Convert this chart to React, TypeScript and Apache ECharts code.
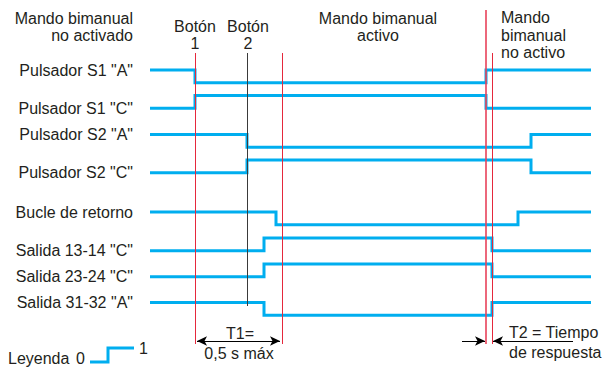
import React, { useEffect, useRef } from "react";
import * as echarts from "echarts";

// ---- data (time in abstract units, state 1 = high, 0 = low) ----
const signalNames = [
  'Pulsador S1 "A"',
  'Pulsador S1 "C"',
  'Pulsador S2 "A"',
  'Pulsador S2 "C"',
  "Bucle de retorno",
  'Salida 13-14 "C"',
  'Salida 23-24 "C"',
  'Salida 31-32 "A"',
];
const pulsadorS1A = [[0, 1], [45, 0], [336, 1], [441, 1]];
const pulsadorS1C = [[0, 0], [45, 1], [336, 0], [441, 0]];
const pulsadorS2A = [[0, 1], [97, 0], [381, 1], [441, 1]];
const pulsadorS2C = [[0, 0], [97, 1], [381, 0], [441, 0]];
const bucleRetorno = [[0, 1], [126, 0], [368, 1], [441, 1]];
const salida1314 = [[0, 0], [114, 1], [342, 0], [441, 0]];
const salida2324 = [[0, 0], [114, 1], [342, 0], [441, 0]];
const salida3132 = [[0, 1], [114, 0], [342, 1], [441, 1]];
const signals = [pulsadorS1A, pulsadorS1C, pulsadorS2A, pulsadorS2C, bucleRetorno, salida1314, salida2324, salida3132];

const tBoton1 = 45;
const tBoton2 = 97;
const tT1End = 132;
const tRelease = 336;
const tT2End = 342;
const tEnd = 441;

// ---- layout ----
const rowTops = [70, 95.5, 134.5, 160, 212, 238, 264, 302.5];
const rowHeight = 12.7;
const W = 602;
const H = 367;
const plotLeft = 150;
const plotRight = 11;

const BLUE = "#00AEEF";
const RED = "#E5283C";
const TXT = "#231F20";
const FONT = "Liberation Sans, Arial, Helvetica, sans-serif";
const FS = 16;

export default function App() {
  const ref = useRef<HTMLDivElement>(null);
  useEffect(() => {
    document.body.style.margin = "0";
    const chart = echarts.init(ref.current!, null, { renderer: "svg" });

    const grids: any[] = [];
    const xAxes: any[] = [];
    const yAxes: any[] = [];
    const series: any[] = [];

    signals.forEach((sig, i) => {
      grids.push({ left: plotLeft, right: plotRight, top: rowTops[i], height: rowHeight });
      xAxes.push({ type: "value", gridIndex: i, min: 0, max: tEnd, show: false });
      yAxes.push({ type: "value", gridIndex: i, min: 0, max: 1, show: false });
      series.push({
        type: "line",
        name: signalNames[i],
        xAxisIndex: i,
        yAxisIndex: i,
        step: "end",
        clip: false,
        showSymbol: false,
        lineStyle: { color: BLUE, width: 3, join: "miter", cap: "butt" },
        z: 3,
        data: sig,
      });
    });

    // overlay grid for markers
    const oi = signals.length;
    grids.push({ left: plotLeft, right: plotRight, top: 0, bottom: 0 });
    xAxes.push({ type: "value", gridIndex: oi, min: 0, max: tEnd, show: false });
    yAxes.push({ type: "value", gridIndex: oi, min: 0, max: H, inverse: true, show: false });

    const vline = (t: number, y1: number, y2: number, color: string, width: number) => [
      { coord: [t, y1], lineStyle: { color, width, type: "solid" } },
      { coord: [t, y2] },
    ];
    const arrowY = 341;
    series.push({
      type: "line",
      xAxisIndex: oi,
      yAxisIndex: oi,
      data: [[0, -50]],
      showSymbol: false,
      lineStyle: { opacity: 0 },
      z: 2,
      markLine: {
        silent: true,
        symbol: "none",
        label: { show: false },
        data: [
          vline(tBoton1, 53, 344, RED, 1),
          vline(tBoton2, 53, 306, "#3a3a3a", 1),
          vline(tT1End, 53, 344, RED, 1),
          vline(tRelease, 10, 344, "#E8425A", 1.6),
          vline(tT2End, 53, 344, RED, 1),
        ],
      },
    });
    series.push({
      type: "line",
      xAxisIndex: oi,
      yAxisIndex: oi,
      data: [[0, -50]],
      showSymbol: false,
      lineStyle: { opacity: 0 },
      z: 4,
      markLine: {
        silent: true,
        symbolSize: [7, 10],
        label: { show: false },
        lineStyle: { color: "#000", width: 1, type: "solid" },
        data: [
          [
            { coord: [tBoton1 + 2, arrowY], symbol: "arrow" },
            { coord: [tT1End - 2, arrowY], symbol: "arrow" },
          ],
          [
            { coord: [tRelease - 24, arrowY], symbol: "none" },
            { coord: [tRelease - 1, arrowY], symbol: "arrow" },
          ],
          [
            { coord: [tT2End + 81, arrowY], symbol: "none" },
            { coord: [tT2End + 1, arrowY], symbol: "arrow" },
          ],
        ],
      },
    });

    const txt = (text: string, x: number, y: number, align: string) => ({
      type: "text",
      x,
      y,
      style: {
        text,
        fill: TXT,
        font: `${FS}px ${FONT}`,
        align,
        verticalAlign: "middle",
      },
    });

    chart.setOption({
      animation: false,
      grid: grids,
      xAxis: xAxes,
      yAxis: yAxes,
      series,
    });

    // signal names, placed at the start level of each signal via the chart's scales
    const nameTexts = signals.map((sig, i) => {
      const p = chart.convertToPixel({ gridIndex: i } as any, sig[0]) as number[];
      return txt(signalNames[i], p[0] - 17, p[1], "right");
    });

    chart.setOption({
      graphic: [
        ...nameTexts,
        txt("Mando bimanual", 133, 18, "right"),
        txt("no activado", 133, 35, "right"),
        txt("Botón", 195, 26, "center"),
        txt("1", 195, 43, "center"),
        txt("Botón", 248, 26, "center"),
        txt("2", 248, 43, "center"),
        txt("Mando bimanual", 378, 18, "center"),
        txt("activo", 378, 35, "center"),
        txt("Mando", 501, 17, "left"),
        txt("bimanual", 501, 35, "left"),
        txt("no activo", 501, 52, "left"),
        txt("T1=", 240, 333, "center"),
        txt("0,5 s máx", 239, 353, "center"),
        txt("T2 = Tiempo", 509, 332, "left"),
        txt("de respuesta", 509, 352, "left"),
        txt("Leyenda", 8, 358.5, "left"),
        txt("0", 76, 358.5, "left"),
        txt("1", 139, 348, "left"),
        {
          type: "polyline",
          shape: { points: [[90, 362], [108, 362], [108, 348], [134, 348]] },
          style: { stroke: BLUE, lineWidth: 3, fill: null, lineJoin: "miter" },
        },
      ],
    });
    return () => chart.dispose();
  }, []);
  return <div ref={ref} style={{ width: W, height: H }} />;
}
